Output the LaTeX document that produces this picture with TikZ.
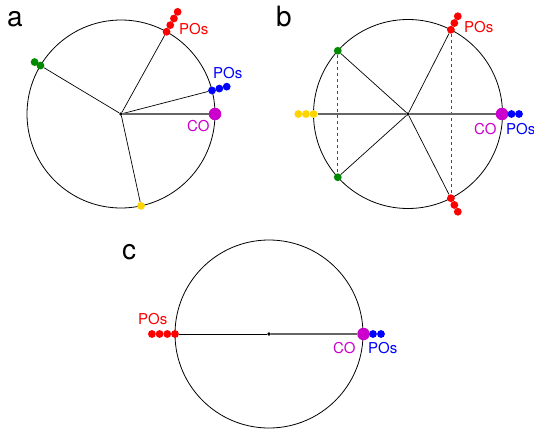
\documentclass[tikz,border=0pt]{standalone}
\usepackage{fontspec}
\setmainfont{TeX Gyre Heros}
\usepackage{tikz}
\definecolor{poRed}{HTML}{FF0000}
\definecolor{poBlue}{HTML}{0000FF}
\definecolor{poGreen}{HTML}{008A00}
\definecolor{poYellow}{HTML}{FFD500}
\definecolor{coMag}{HTML}{CC00CC}

\begin{document}
\begin{tikzpicture}[x=1pt, y=1pt,
    rim/.style={draw=black, line width=0.8pt},
    spoke/.style={draw=black, line width=0.7pt},
    coline/.style={draw=black!60, line width=1.1pt},
    link/.style={draw=black!70, line width=0.8pt, dash pattern=on 3pt off 3pt},
    ctr/.style={circle, fill=black, inner sep=0pt, minimum size=3.6pt},
    podot/.style={circle, fill=#1, inner sep=0pt, minimum size=7.8pt},
    codot/.style={circle, fill=coMag, inner sep=0pt, minimum size=12.5pt},
    lbl/.style={font=\fontsize{15}{18}\selectfont, inner sep=0pt, anchor=base west},
    tag/.style={font=\fontsize{28}{32}\selectfont, inner sep=0pt, anchor=base west},
]
    \useasboundingbox (0,0) rectangle (534,432);

    % panel a
    \node[tag] (ta) at (7,405) {a};
    \node[ctr] (ca) at (121,318) {};
    \draw[rim] (ca.center) circle[radius=94];
    \foreach \i [evaluate=\i as \r using 94+7.6*\i] in {0,...,3}
        \node[podot=poRed] (ar\i) at ([shift={(61:\r)}]ca.center) {};
    \foreach \i [evaluate=\i as \r using 94+7.6*\i] in {0,...,2}
        \node[podot=poBlue] (ab\i) at ([shift={(14.5:\r)}]ca.center) {};
    \foreach \i [evaluate=\i as \r using 94+6.8*\i] in {0,1}
        \node[podot=poGreen] (ag\i) at ([shift={(149:\r)}]ca.center) {};
    \node[podot=poYellow] (ay) at ([shift={(-77.7:94)}]ca.center) {};
    \node[codot] (aco) at ([shift={(0:94)}]ca.center) {};
    \draw[spoke] (ca) -- (ar0);
    \draw[spoke] (ca) -- (ab0);
    \draw[spoke] (ca) -- (ag0);
    \draw[spoke] (ca) -- (ay);
    \draw[coline] (ca) -- (aco);
    \node[lbl, text=poRed] (apr) at (179,397) {POs};
    \node[lbl, text=poBlue] (apb) at (213,353) {POs};
    \node[lbl, text=coMag] (aco-l) at (187,301) {CO};

    % panel b
    \node[tag] (tb) at (276,405) {b};
    \node[ctr] (cb) at (408,318) {};
    \draw[rim] (cb.center) circle[radius=94.5];
    \foreach \i [evaluate=\i as \r using 94.5+7.6*\i] in {0,...,2} {
        \node[podot=poRed] (brt\i) at ([shift={(63:\r)}]cb.center) {};
        \node[podot=poRed] (brb\i) at ([shift={(-63:\r)}]cb.center) {};
        \node[podot=poYellow] (by\i) at ([shift={(180:\r)}]cb.center) {};
    }
    \node[podot=poGreen] (bgt) at ([shift={(138:94.5)}]cb.center) {};
    \node[podot=poGreen] (bgb) at ([shift={(-138:94.5)}]cb.center) {};
    \node[codot] (bco) at ([shift={(0:94)}]cb.center) {};
    \node[podot=poBlue] (bb0) at ([shift={(0:103.5)}]cb.center) {};
    \node[podot=poBlue] (bb1) at ([shift={(0:111)}]cb.center) {};
    \draw[link] (brt0) -- (brb0);
    \draw[link] (bgt) -- (bgb);
    \draw[spoke] (cb) -- (brt0);
    \draw[spoke] (cb) -- (brb0);
    \draw[spoke] (cb) -- (bgt);
    \draw[spoke] (cb) -- (bgb);
    \draw[coline] (by0) -- (cb);
    \draw[coline] (cb) -- (bco);
    \node[lbl, text=poRed] (bpr) at (464,399) {POs};
    \node[lbl, text=coMag] (bco-l) at (474,298) {CO};
    \node[lbl, text=poBlue] (bpb) at (506,298) {POs};

    % panel c
    \node[tag] (tc) at (122,173) {c};
    \node[ctr] (cc) at (269,98) {};
    \draw[rim] (cc.center) circle[radius=94];
    \foreach \i [evaluate=\i as \r using 94+7.7*\i] in {0,...,3}
        \node[podot=poRed] (cr\i) at ([shift={(180:\r)}]cc.center) {};
    \node[codot] (cco) at ([shift={(0:94.5)}]cc.center) {};
    \node[podot=poBlue] (cb0) at ([shift={(0:104)}]cc.center) {};
    \node[podot=poBlue] (cb1) at ([shift={(0:112)}]cc.center) {};
    \draw[spoke] (cr0) -- (cc);
    \draw[coline] (cc) -- (cco);
    \node[lbl, text=poRed] (cpr) at (138,108) {POs};
    \node[lbl, text=coMag] (cco-l) at (333,79) {CO};
    \node[lbl, text=poBlue] (cpb) at (368,79) {POs};
\end{tikzpicture}
\end{document}
